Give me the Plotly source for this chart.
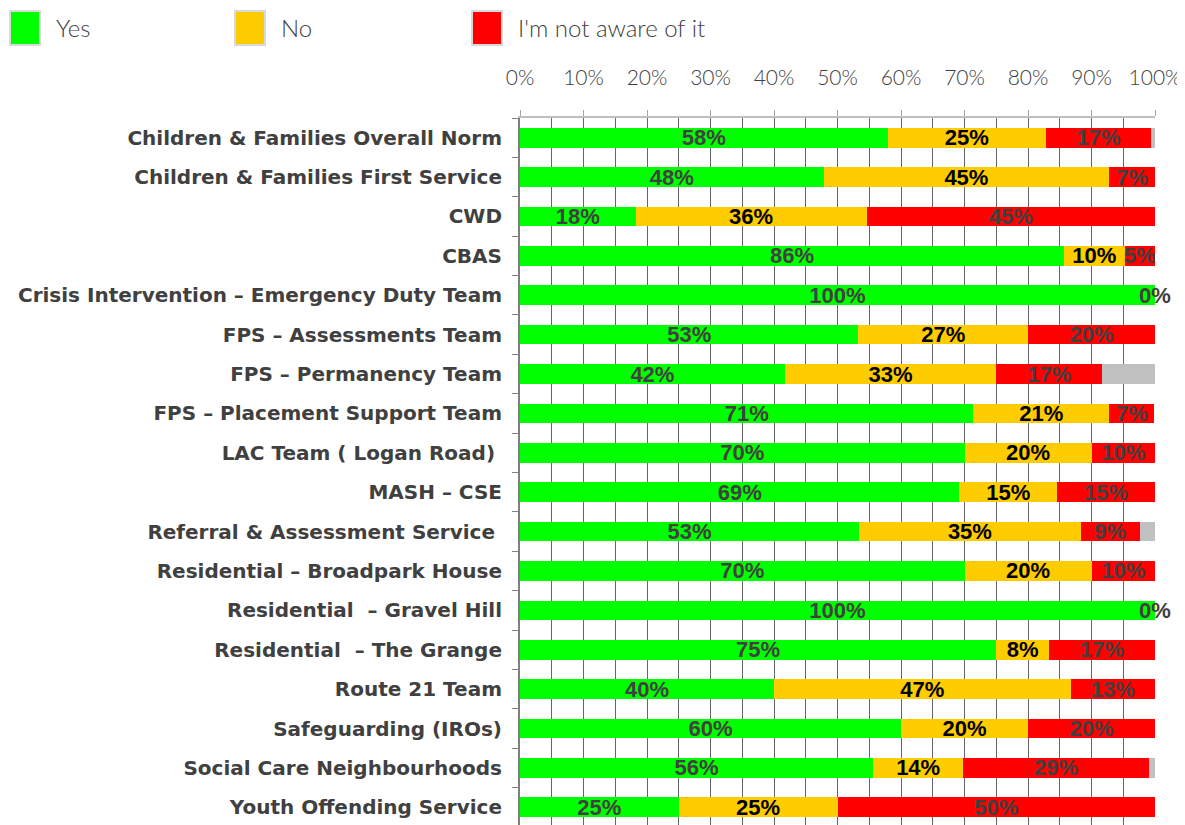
import plotly.graph_objects as go

categories = [
    "Children & Families Overall Norm",
    "Children & Families First Service",
    "CWD",
    "CBAS",
    "Crisis Intervention – Emergency Duty Team",
    "FPS – Assessments Team",
    "FPS – Permanency Team",
    "FPS – Placement Support Team",
    "LAC Team ( Logan Road) ",
    "MASH – CSE",
    "Referral & Assessment Service ",
    "Residential – Broadpark House",
    "Residential  – Gravel Hill",
    "Residential  – The Grange",
    "Route 21 Team",
    "Safeguarding (IROs)",
    "Social Care Neighbourhoods",
    "Youth Offending Service",
]

yes_vals = [57.9, 47.8, 18.2, 85.7, 100.0, 53.3, 41.7, 71.4, 70.0, 69.2, 53.4, 70.0, 100.0, 75.0, 40.0, 60.0, 55.6, 25.0]
no_vals = [24.9, 45.0, 36.4, 9.5, 0.0, 26.7, 33.3, 21.4, 20.0, 15.4, 34.9, 20.0, 0.0, 8.3, 46.7, 20.0, 14.2, 25.0]
unaware_vals = [16.6, 7.2, 45.4, 4.8, 0.0, 20.0, 16.7, 7.1, 10.0, 15.4, 9.3, 10.0, 0.0, 16.7, 13.3, 20.0, 29.2, 50.0]
blank_vals = [0.6, 0.0, 0.0, 0.0, 0.0, 0.0, 8.3, 0.0, 0.0, 0.0, 2.4, 0.0, 0.0, 0.0, 0.0, 0.0, 1.0, 0.0]

series_names = ["Yes", "No", "I'm not aware of it"]
colors = ["#00FF00", "#FFCC00", "#FF0000"]
label_colors = ["#404040", "#000000", "#404040"]
tick_vals = [0, 10, 20, 30, 40, 50, 60, 70, 80, 90, 100]

# page has an 8px body margin; figure sized so the plot lands where the reference has it
OFF = 8
W, H = 1185 - OFF, 827 - OFF
L, T, R, B = 520 - OFF, 118 - OFF, 30, 0
PW, PH = W - L - R, H - T - B

fig = go.Figure()
label_font_family = "Liberation Sans Narrow, Liberation Sans, Arial"

for name, vals, col, lcol in zip(series_names, [yes_vals, no_vals, unaware_vals], colors, label_colors):
    fig.add_trace(go.Bar(
        y=categories, x=vals, orientation="h", name=name,
        marker=dict(color=col, line=dict(width=0)),
        texttemplate=[("%{x:.0f}%" if v > 0 else "") for v in vals],
        textposition="inside", insidetextanchor="middle",
        textfont=dict(family=label_font_family, size=22, color=lcol, weight="bold"),
        showlegend=False, hoverinfo="skip", width=0.5,
    ))

fig.add_trace(go.Bar(
    y=categories, x=blank_vals, orientation="h", name="",
    marker=dict(color="#C0C0C0", line=dict(width=0)),
    showlegend=False, hoverinfo="skip", width=0.5,
))

# zero labels for rows where No and unaware are both zero
for cat, n, u in zip(categories, no_vals, unaware_vals):
    if n == 0 and u == 0:
        fig.add_annotation(x=100, y=cat, xref="x", yref="y", text="0%",
                           showarrow=False, xanchor="center",
                           font=dict(family=label_font_family, size=22, color="#404040", weight="bold"))

# custom legend (page pixel positions converted to paper coords)
def px_x(p):
    return (p - OFF - L) / PW

def px_y(p):
    return (H - (p - OFF) - B) / PH

legend_x = [10, 235, 472]
for lx, name, col in zip(legend_x, series_names, colors):
    fig.add_shape(type="rect", xref="paper", yref="paper",
                  x0=px_x(lx), x1=px_x(lx + 30),
                  y0=px_y(45), y1=px_y(11),
                  fillcolor=col, line=dict(color="#D9D9D9", width=2), layer="above")
    fig.add_annotation(xref="paper", yref="paper", x=px_x(lx + 44),
                       y=px_y(28), text=name, showarrow=False,
                       xanchor="left", yanchor="middle",
                       font=dict(family="Lato", size=24, color="#404040", weight=300))

fig.update_layout(
    barmode="stack",
    width=W, height=H,
    margin=dict(l=L, r=R, t=T, b=B, autoexpand=False),
    plot_bgcolor="white", paper_bgcolor="white",
    uniformtext=dict(minsize=22, mode="show"),
    bargap=0.5,
)
fig.update_xaxes(
    side="top", range=[0, 100], tickvals=tick_vals,
    ticktext=[f"{v}%" for v in tick_vals],
    tickfont=dict(family="Lato", size=21, color="#404040", weight=300),
    ticks="outside", ticklen=6, tickcolor="#A6A6A6",
    ticklabelstandoff=17,
    showline=True, linecolor="#BFBFBF", linewidth=2,
    showgrid=True, gridcolor="#666666", gridwidth=1,
    minor=dict(dtick=5, showgrid=True, gridcolor="#666666", gridwidth=1),
    zeroline=False, fixedrange=True,
)
fig.update_yaxes(
    autorange="reversed",
    tickfont=dict(family="DejaVu Sans, Liberation Sans, Arial", size=20, color="#404040", weight="bold"),
    ticks="outside", ticklen=6, tickcolor="#808080", tickson="boundaries",
    ticklabelstandoff=12,
    showline=True, linecolor="#808080", linewidth=2,
    showgrid=False, fixedrange=True,
)

fig.write_html("out.html")
